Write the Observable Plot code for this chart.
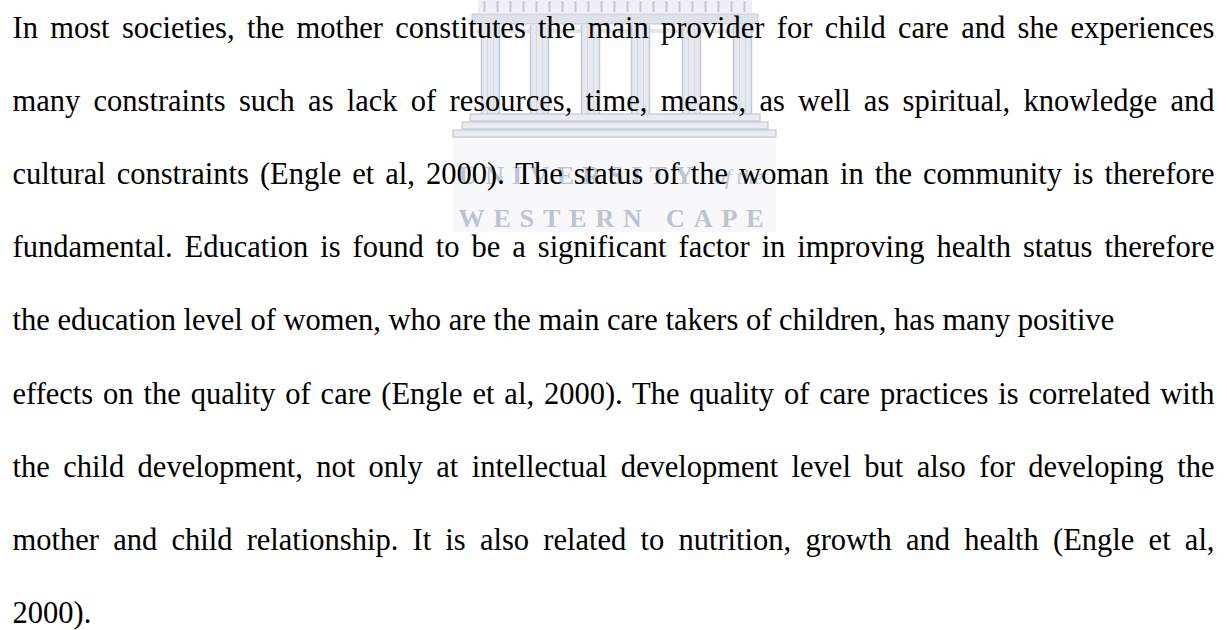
<!DOCTYPE html>
<html>
<head>
<meta charset="utf-8">
<script src="https://cdn.jsdelivr.net/npm/d3@7"></script>
<script src="https://cdn.jsdelivr.net/npm/@observablehq/plot@0.6"></script>
<style>
  html, body { margin: 0; padding: 0; background: #fff; }
  #chart svg { display: block; }
</style>
</head>
<body>
<div id="chart"></div>
<script>
// ---- Paragraph text (one entry per printed line) ----
const lines = [
  "In most societies, the mother constitutes the main provider for child care and she experiences",
  "many constraints such as lack of resources, time, means, as well as spiritual, knowledge and",
  "cultural constraints (Engle et al, 2000). The status of the woman in the community is therefore",
  "fundamental. Education is found to be a significant factor in improving health status therefore",
  "the education level of women, who are the main care takers of children, has many positive",
  "effects on the quality of care (Engle et al, 2000). The quality of care practices is correlated with",
  "the child development, not only at intellectual development level but also for developing the",
  "mother and child relationship. It is also related to nutrition, growth and health (Engle et al,",
  "2000)."
];
const lineIndex = lines.map((_, i) => i);
// lines that are not stretched to the right margin
const raggedLines = [4, 8];

// ---- Watermark (University of the Western Cape emblem) ----
const watermarkWords = ["UNIVERSITY", "of the", "WESTERN CAPE"];
const columnCenters = [490, 539, 590, 640, 691, 742];
const steps = [
  {x1: 470, x2: 760, y1: 114, y2: 121},
  {x1: 462, x2: 768, y1: 122, y2: 129},
  {x1: 453, x2: 776, y1: 130, y2: 137}
];
const friezeTicks = d3.range(484, 750, 13);

const W = 1227, H = 630;
const left = 12, right = 1214, firstBaseline = 37, leading = 73.2;
const wmFill = "#e6e9f0", wmStroke = "#c2c9d7", wmText = "#bcc3d1";

const chart = Plot.plot({
  width: W,
  height: H,
  margin: 0,
  x: {domain: [0, W], range: [0, W], axis: null},
  y: {domain: [0, H], range: [0, H], axis: null},
  style: {background: "#fff", overflow: "visible"},
  marks: [
    // faint panel behind lower emblem text
    Plot.rect([0], {x1: 453, x2: 776, y1: 137, y2: 232, fill: "#f8f8fa"}),
    // frieze
    Plot.rect([0], {x1: 478, x2: 752, y1: 0, y2: 13, fill: "#eef0f5"}),
    Plot.ruleX(friezeTicks, {x: d => d, y1: 1, y2: 12, stroke: wmStroke, strokeWidth: 2}),
    // entablature band
    Plot.rect([0], {x1: 472, x2: 758, y1: 14, y2: 24, fill: "#dde2eb", stroke: wmStroke}),
    Plot.rect([0], {x1: 476, x2: 754, y1: 29, y2: 33, fill: "#e3e7ee"}),
    // columns
    Plot.rect(columnCenters, {x1: d => d - 9, x2: d => d + 9, y1: 25, y2: 114, fill: wmFill}),
    Plot.ruleX(columnCenters, {x: d => d - 9, y1: 25, y2: 114, stroke: wmStroke, strokeWidth: 1.5}),
    Plot.ruleX(columnCenters, {x: d => d + 9, y1: 25, y2: 114, stroke: wmStroke, strokeWidth: 1.5}),
    Plot.ruleX(columnCenters, {x: d => d - 3, y1: 25, y2: 114, stroke: "#d3d8e2", strokeWidth: 1}),
    Plot.ruleX(columnCenters, {x: d => d + 3, y1: 25, y2: 114, stroke: "#d3d8e2", strokeWidth: 1}),
    // steps
    Plot.rect(steps, {x1: "x1", x2: "x2", y1: "y1", y2: "y2", fill: "#e8ebf1", stroke: wmStroke, strokeWidth: 1.2}),
    // emblem lettering
    Plot.text([watermarkWords[0]], {x: 458, y: 183, text: d => d, textAnchor: "start", lineAnchor: "bottom",
      fontSize: 26, fontWeight: "bold", fontFamily: "Liberation Serif", fill: wmText}),
    Plot.text([watermarkWords[1]], {x: 763, y: 183, text: d => d, textAnchor: "end", lineAnchor: "bottom",
      fontSize: 22, fontStyle: "italic", fontFamily: "Liberation Serif", fill: wmText}),
    Plot.text([watermarkWords[2]], {x: 458, y: 226, text: d => d, textAnchor: "start", lineAnchor: "bottom",
      fontSize: 26, fontWeight: "bold", fontFamily: "Liberation Serif", fill: wmText}),
    // paragraph
    Plot.text(lineIndex, {
      x: () => left,
      y: i => firstBaseline + i * leading,
      text: i => lines[i],
      textAnchor: "start",
      lineAnchor: "bottom",
      fontSize: 30.5,
      fontFamily: "Liberation Serif",
      fill: "#000"
    })
  ]
});

document.getElementById("chart").appendChild(chart);

const allTexts = Array.from(chart.querySelectorAll("text"));
// Justify the full lines (word spacing), like the printed page
lines.forEach((line, i) => {
  if (raggedLines.includes(i)) return;
  const el = allTexts.find(t => t.textContent === line);
  if (!el) return;
  const natural = el.getComputedTextLength();
  const spaces = (line.match(/ /g) || []).length;
  if (spaces > 0) el.style.wordSpacing = ((right - left) - natural) / spaces + "px";
});
// spread emblem lettering
const spread = {"UNIVERSITY": 235, "WESTERN CAPE": 305};
allTexts.forEach(t => {
  const L = spread[t.textContent];
  if (L) { t.setAttribute("textLength", L); t.setAttribute("lengthAdjust", "spacing"); }
});
</script>
</body>
</html>
